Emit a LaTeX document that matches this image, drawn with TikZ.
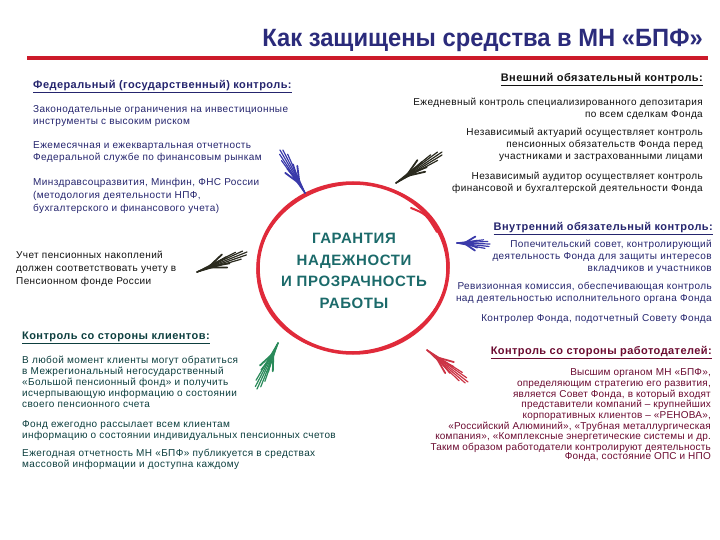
\documentclass[tikz,border=0pt]{standalone}
\usepackage{fontspec}
\setmainfont{Liberation Sans}[LetterSpace=4]
\newfontfamily\ttlfont[FakeStretch=0.95]{Liberation Sans}
\newfontfamily\marfont[LetterSpace=2]{Liberation Sans}
\usetikzlibrary{calc}
\definecolor{navy}{HTML}{25256E}
\definecolor{titlenavy}{HTML}{2B2B7B}
\definecolor{tealdark}{HTML}{0D3F3F}
\definecolor{tealmid}{HTML}{1B6A6A}
\definecolor{maroon}{HTML}{6B0A30}
\definecolor{inkblack}{HTML}{111111}
\definecolor{circred}{HTML}{E02A3A}
\definecolor{rulered}{HTML}{CC1A2A}
\definecolor{brushblue}{HTML}{3A3AAA}
\definecolor{brushdark}{HTML}{2A2A1E}
\definecolor{brushgreen}{HTML}{2A8A5A}
\definecolor{brushred}{HTML}{CC3344}
\newcommand{\featherbrush}[3]{%
  \foreach \t/\o in {1/0, 0.97/2.5, 0.93/-2.5, 0.85/4.5, 0.8/-4}{%
    \draw[#1, line width=1.2pt, line cap=round] (#2) -- ($(#2)!\t!(#3)!\o pt!90:(#2)$);}
  \foreach \s/\e/\o in {0.22/0.55/7, 0.22/0.55/-7, 0.28/0.62/4, 0.3/0.6/-3}{%
    \draw[#1, line width=1.8pt, line cap=round] ($(#2)!\s!(#3)$) -- ($(#2)!\e!(#3)!\o pt!90:(#2)$);}
}
\begin{document}
\begin{tikzpicture}[x=1pt,y=-1pt,
  txt/.style={inner sep=0pt, font=\fontsize{10}{12}\selectfont},
  lt/.style={txt, anchor=north west, align=left},
  rt/.style={txt, anchor=north east, align=right},
  hdr/.style={inner sep=0pt, font=\fontsize{11}{13}\selectfont\bfseries}]
\useasboundingbox (0,0) rectangle (720,540);
\fill[white] (0,0) rectangle (720,540);

% title and rule
\node[anchor=base east, inner sep=0pt, text=titlenavy,
  font=\ttlfont\fontsize{25}{28}\selectfont\bfseries] (title) at (703,47) {Как защищены средства в МН «БПФ»};
\coordinate (ruleL) at (27,58);
\coordinate (ruleR) at (708,58);
\draw[rulered, line width=3.5pt] (ruleL) -- (ruleR);

% central ring
\coordinate (ringc) at (353,268);
\draw[circred, line width=3.5pt] (ringc) ellipse (95 and 85);
\draw[circred, line width=1.6pt, rotate around={8:(ringc)}] (ringc) ellipse (96 and 84);
\coordinate (tailA) at (411,208);
\coordinate (tailB) at (437,232);
\draw[circred, line width=2pt, line cap=round] (tailA) .. controls (426,214) .. (tailB);
\node[text=tealmid, align=center, inner sep=0pt,
  font=\fontsize{15}{21.5}\selectfont\bfseries] (center) at (354,271)
  {ГАРАНТИЯ\\НАДЕЖНОСТИ\\И ПРОЗРАЧНОСТЬ\\РАБОТЫ};

% left: federal control
\node[hdr, anchor=west, text=navy] (fedh) at (33,87) {\underline{Федеральный (государственный) контроль:}};
\node[lt, text=navy] (fed1) at (33,105.5) {Законодательные ограничения на инвестиционные\\инструменты с высоким риском};
\node[lt, text=navy] (fed2) at (33,141.5) {Ежемесячная и ежеквартальная отчетность\\Федеральной службе по финансовым рынкам};
\node[lt, text=navy, font=\fontsize{10}{13}\selectfont] (fed3) at (33,178.5) {Минздравсоцразвития, Минфин, ФНС России\\(методология деятельности НПФ,\\бухгалтерского и финансового учета)};

\node[lt, text=inkblack, font=\fontsize{10}{13}\selectfont] (pfr) at (16,250.5) {Учет пенсионных накоплений\\должен соответствовать учету в\\Пенсионном фонде России};

% left bottom: clients
\node[hdr, anchor=west, text=tealdark] (clh) at (22,338) {\underline{Контроль со стороны клиентов:}};
\node[lt, text=tealdark, font=\fontsize{10}{11.2}\selectfont] (cl1) at (22,355.5) {В любой момент клиенты могут обратиться\\в Межрегиональный негосударственный\\«Большой пенсионный фонд» и получить\\исчерпывающую информацию о состоянии\\своего пенсионного счета};
\node[lt, text=tealdark, font=\fontsize{10}{11}\selectfont] (cl2) at (22,420.5) {Фонд ежегодно рассылает всем клиентам\\информацию о состоянии индивидуальных пенсионных счетов};
\node[lt, text=tealdark, font=\fontsize{10}{11.5}\selectfont] (cl3) at (22,448.5) {Ежегодная отчетность МН «БПФ» публикуется в средствах\\массовой информации и доступна каждому};

% right top: external control
\node[hdr, anchor=east, text=inkblack] (exh) at (703,80) {\underline{Внешний обязательный контроль:}};
\node[rt, text=inkblack] (ex1) at (703,97.5) {Ежедневный контроль специализированного депозитария\\по всем сделкам Фонда};
\node[rt, text=inkblack, font=\fontsize{10}{12.3}\selectfont] (ex2) at (703,127.5) {Независимый актуарий осуществляет контроль\\пенсионных обязательств Фонда перед\\участниками и застрахованными лицами};
\node[rt, text=inkblack] (ex3) at (703,171.5) {Независимый аудитор осуществляет контроль\\финансовой и бухгалтерской деятельности Фонда};

% right middle: internal control
\node[hdr, anchor=east, text=navy] (inh) at (713,229) {\underline{Внутренний обязательный контроль:}};
\node[rt, text=navy] (in1) at (712,239.5) {Попечительский совет, контролирующий\\деятельность Фонда для защиты интересов\\вкладчиков и участников};
\node[rt, text=navy] (in2) at (712,281.5) {Ревизионная комиссия, обеспечивающая контроль\\над деятельностью исполнительного органа Фонда};
\node[rt, text=navy] (in3) at (712,313.5) {Контролер Фонда, подотчетный Совету Фонда};

% right bottom: employers
\node[hdr, anchor=east, text=maroon] (emh) at (712,353) {\underline{Контроль со стороны работодателей:}};
\node[rt, text=maroon, font=\marfont\fontsize{10}{10.7}\selectfont] (em1) at (711,368.5) {Высшим органом МН «БПФ»,\\определяющим стратегию его развития,\\является Совет Фонда, в который входят\\представители компаний – крупнейших\\корпоративных клиентов – «РЕНОВА»,\\«Российский Алюминий», «Трубная металлургическая\\компания», «Комплексные энергетические системы и др.\\Таким образом работодатели контролируют деятельность};
\node[rt, text=maroon, font=\marfont\fontsize{10}{12}\selectfont] (em2) at (711,452) {Фонда, состояние ОПС и НПО};

% brush arrows
\coordinate (b1tip) at (305,193); \coordinate (b1tail) at (280,150);
\coordinate (b2tip) at (396,183); \coordinate (b2tail) at (442,152);
\coordinate (b3tip) at (197,272); \coordinate (b3tail) at (247,252);
\coordinate (b4tip) at (457,243); \coordinate (b4tail) at (490,244);
\coordinate (b5tip) at (278,343); \coordinate (b5tail) at (257,389);
\coordinate (b6tip) at (427,350); \coordinate (b6tail) at (468,382);
\featherbrush{brushblue}{b1tip}{b1tail}
\featherbrush{brushdark}{b2tip}{b2tail}
\featherbrush{brushdark}{b3tip}{b3tail}
\featherbrush{brushblue}{b4tip}{b4tail}
\featherbrush{brushgreen}{b5tip}{b5tail}
\featherbrush{brushred}{b6tip}{b6tail}
\end{tikzpicture}
\end{document}
